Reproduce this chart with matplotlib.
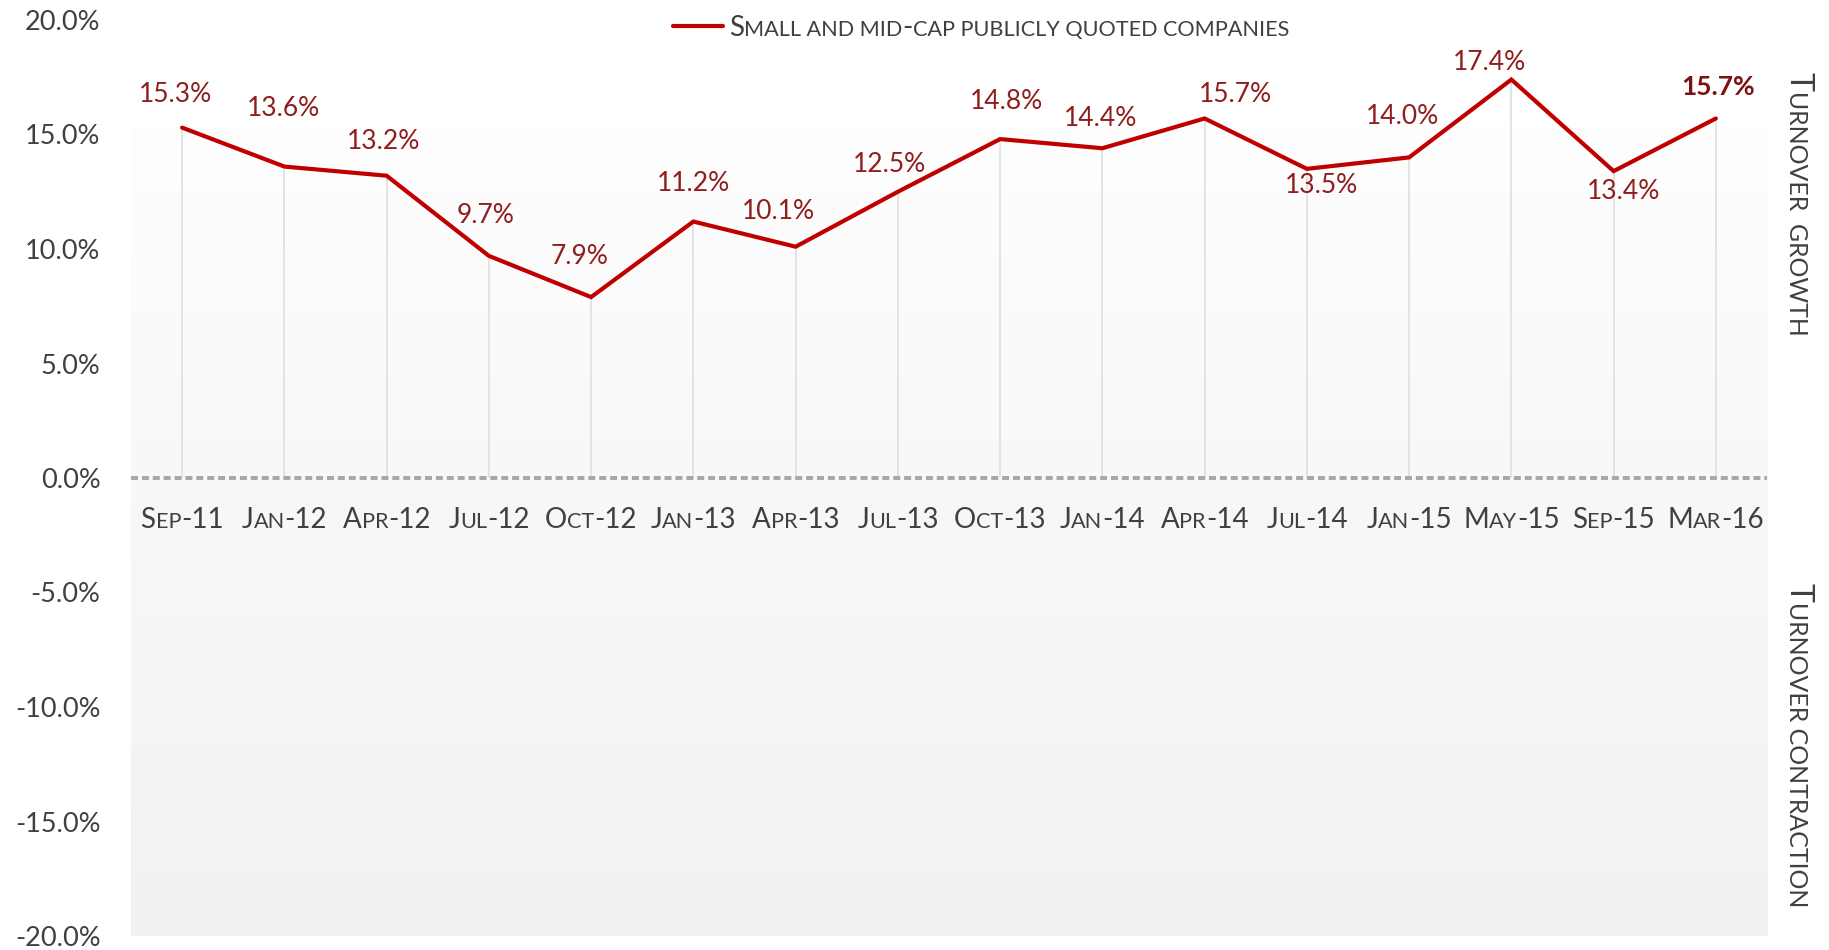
import matplotlib
matplotlib.use("Agg")
import matplotlib.pyplot as plt
import numpy as np
from matplotlib.colors import LinearSegmentedColormap
from matplotlib.lines import Line2D

# Data
periods = ["Sep-11", "Jan-12", "Apr-12", "Jul-12", "Oct-12", "Jan-13", "Apr-13", "Jul-13",
           "Oct-13", "Jan-14", "Apr-14", "Jul-14", "Jan-15", "May-15", "Sep-15", "Mar-16"]
growth = [15.3, 13.6, 13.2, 9.7, 7.9, 11.2, 10.1, 12.5,
          14.8, 14.4, 15.7, 13.5, 14.0, 17.4, 13.4, 15.7]
series_name = "Small and mid-cap publicly quoted companies"
y_ticks = [-20, -15, -10, -5, 0, 5, 10, 15, 20]

# label offsets in pixels (dx, dy)
label_offsets = [(-7, 33), (-1, 58), (-3, 34), (-3, 40), (-12, 41), (0, 38), (-17, 35), (-8, 27),
                 (6, 38), (-2, 30), (31, 24), (15, -17), (-7, 41), (-22, 17), (10, -20), (2, 31)]

FONT = "Lato"
RED = "#c00000"
LABEL_RED = "#8f1d1d"
GREY_TXT = "#404040"

plt.rcParams["font.family"] = [FONT, "DejaVu Sans"]


def smallcaps(fig, xy, s, size, color, xycoords, ha="left", rotation=0, weight="normal", ratio=0.78):
    """Fake small caps: lowercase letters drawn as smaller capitals."""
    runs = []
    for ch in s:
        small = ch.islower() or (ch == " ")
        if runs and runs[-1][1] == small:
            runs[-1][0] += ch
        else:
            runs.append([ch, small])
    renderer = fig.canvas.get_renderer()
    widths = []
    for txt, small in runs:
        t = fig.text(0, 0, txt.upper(), fontsize=size * ratio if small else size, fontweight=weight)
        widths.append(t.get_window_extent(renderer).width)
        t.remove()
    total = sum(widths)
    off = {"left": 0.0, "center": -total / 2, "right": -total}[ha]
    ang = np.deg2rad(rotation)
    for (txt, small), w in zip(runs, widths):
        fig.axes[0].annotate(txt.upper(), xy=xy, xycoords=xycoords,
                             xytext=(off * np.cos(ang), off * np.sin(ang)), textcoords="offset pixels",
                             ha="left", va="baseline", rotation=rotation, rotation_mode="anchor",
                             fontsize=size * ratio if small else size, color=color,
                             fontweight=weight, annotation_clip=False)
        off += w


fig = plt.figure(figsize=(18.29, 9.5), dpi=100)
ax = fig.add_axes([131 / 1829, 14 / 950, 1636 / 1829, 916 / 950])
x = np.arange(len(periods))

# background gradient box
grad = LinearSegmentedColormap.from_list("bg", ["#fefefe", "#f1f1f1"])
ax.imshow(np.linspace(0, 1, 256).reshape(-1, 1), cmap=grad, aspect="auto",
          extent=[-0.5, len(periods) - 0.5, -20, 15.4], origin="upper", zorder=0)

# drop lines
ax.vlines(x, 0, growth, color="#e3e3e3", lw=1.4, zorder=1)
# zero line
ax.axhline(0, color="#a6a6a6", lw=2.8, dashes=[1.8, 1.0], zorder=2)
# series
ax.plot(x, growth, color=RED, lw=3.0, solid_joinstyle="miter", solid_capstyle="round", zorder=3)

for i, (v, (dx, dy)) in enumerate(zip(growth, label_offsets)):
    last = i == len(growth) - 1
    ax.annotate(f"{v:.1f}%", xy=(i, v), xytext=(dx, dy), textcoords="offset pixels",
                ha="center", va="center", fontsize=19,
                color="#7d1010" if last else LABEL_RED,
                fontweight="bold" if last else "normal")

ax.set_xlim(-0.5, len(periods) - 0.5)
ax.set_ylim(-20, 20)
ax.set_xticks([])
ax.set_yticks(y_ticks)
ax.set_yticklabels([f"{t:.1f}%" for t in y_ticks])
ax.tick_params(axis="y", length=0, pad=22, labelsize=19.5, labelcolor=GREY_TXT)
for sp in ax.spines.values():
    sp.set_visible(False)
ax.set_facecolor("white")

# category labels in small caps
for i, p in enumerate(periods):
    smallcaps(fig, (i, -2.2), p, 20, GREY_TXT, "data", ha="center")

# legend
fig.add_artist(Line2D([673 / 1829, 723 / 1829], [924 / 950, 924 / 950], transform=fig.transFigure,
                      color=RED, lw=3.0, solid_capstyle="round"))
smallcaps(fig, (729, 914), series_name, 20, GREY_TXT, "figure pixels")

# side labels
smallcaps(fig, (1789, 878), "Turnover  growth", 23, GREY_TXT, "figure pixels", rotation=-90)
smallcaps(fig, (1789, 367), "Turnover contraction", 23, GREY_TXT, "figure pixels", rotation=-90)

fig.savefig("out.png", dpi=100)
